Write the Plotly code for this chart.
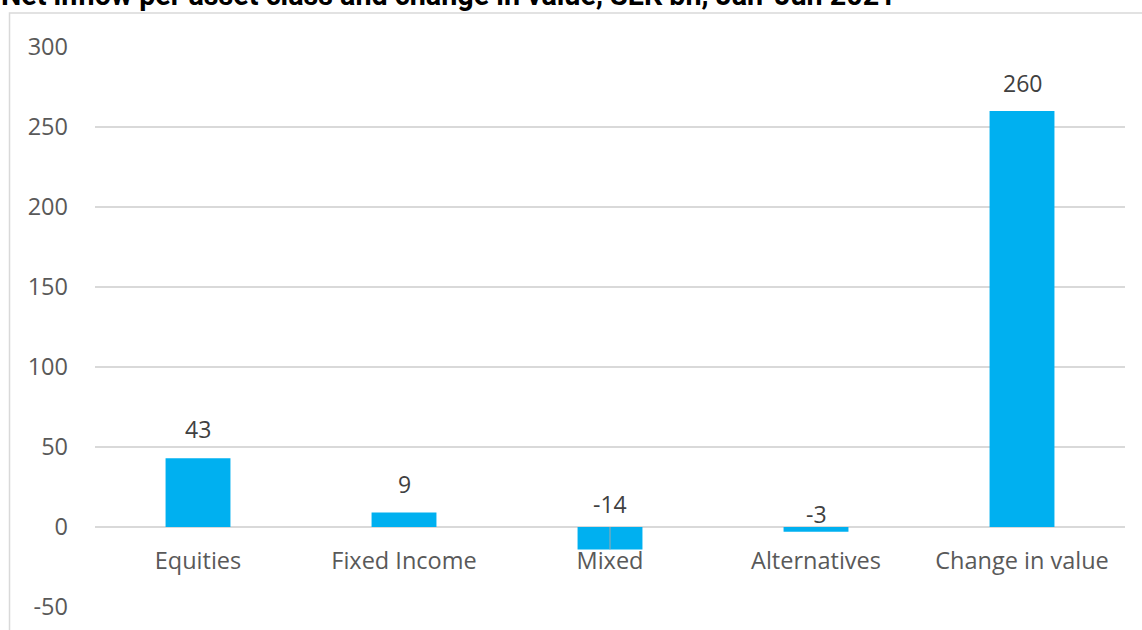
import plotly.graph_objects as go

categories = ["Equities", "Fixed Income", "Mixed", "Alternatives", "Change in value"]
values = [43, 9, -14, -3, 260]
label_texts = ["43", "9", "-14", "-3", "260"]
y_ticks = [-50, 0, 50, 100, 150, 200, 250, 300]
title_text = "Net inflow per asset class and change in value, SEK bn, Jan-Jun 2021"

label_shift = [29, 29, 23, 13, 28]

BAR = "#00B0F0"
GRID = "#D9D9D9"
FONT = "Open Sans"

fig = go.Figure()
fig.add_trace(go.Bar(
    x=categories, y=values,
    marker=dict(color=BAR, line=dict(width=0)),
    width=0.315,
    hoverinfo="skip",
))

annotations = []
for c, v, t, s in zip(categories, values, label_texts, label_shift):
    annotations.append(dict(
        x=c, y=max(v, 0), xref="x", yref="y", text=t, showarrow=False,
        yanchor="middle", yshift=s,
        font=dict(family=FONT, size=23, color="#404040"),
    ))

annotations.append(dict(
    x=-0.093, y=1.0582, xref="paper", yref="paper", text="<b>" + title_text + "</b>",
    showarrow=False, xanchor="left", yanchor="bottom",
    font=dict(family="Roboto", size=28.7, color="#000000"),
))

shapes = [
    dict(type="rect", xref="paper", yref="paper",
         x0=-0.083, x1=1.02, y0=-0.2, y1=1.0607,
         line=dict(color=GRID, width=1.5), fillcolor="rgba(0,0,0,0)", layer="below"),
    dict(type="line", xref="x", yref="y",
         x0=categories[2], x1=categories[2], y0=0, y1=values[2],
         line=dict(color="#A6A6A6", width=1)),
]

fig.update_layout(
    width=1142, height=630,
    margin=dict(l=95, r=17, t=47, b=23, autoexpand=False),
    paper_bgcolor="white", plot_bgcolor="white",
    showlegend=False,
    annotations=annotations,
    shapes=shapes,
    xaxis=dict(
        type="category", anchor="free", position=(0 - (-50)) / 350,
        automargin=False,
        showline=False, showgrid=False, zeroline=False, ticks="",
        tickfont=dict(family=FONT, size=23.5, color="#595959"),
        ticklabelstandoff=17,
    ),
    yaxis=dict(
        range=[-50, 300], tickvals=y_ticks, ticktext=[str(t) for t in y_ticks],
        automargin=False,
        showgrid=True, gridcolor=GRID, gridwidth=1.5, zeroline=True,
        zerolinecolor=GRID, zerolinewidth=1.5, showline=False, ticks="",
        tickfont=dict(family=FONT, size=23.5, color="#595959"),
        ticklabelstandoff=26,
    ),
)

fig.write_html("out.html", config={"displayModeBar": False},
               post_script="document.body.style.margin='0';document.body.style.overflow='hidden';")
